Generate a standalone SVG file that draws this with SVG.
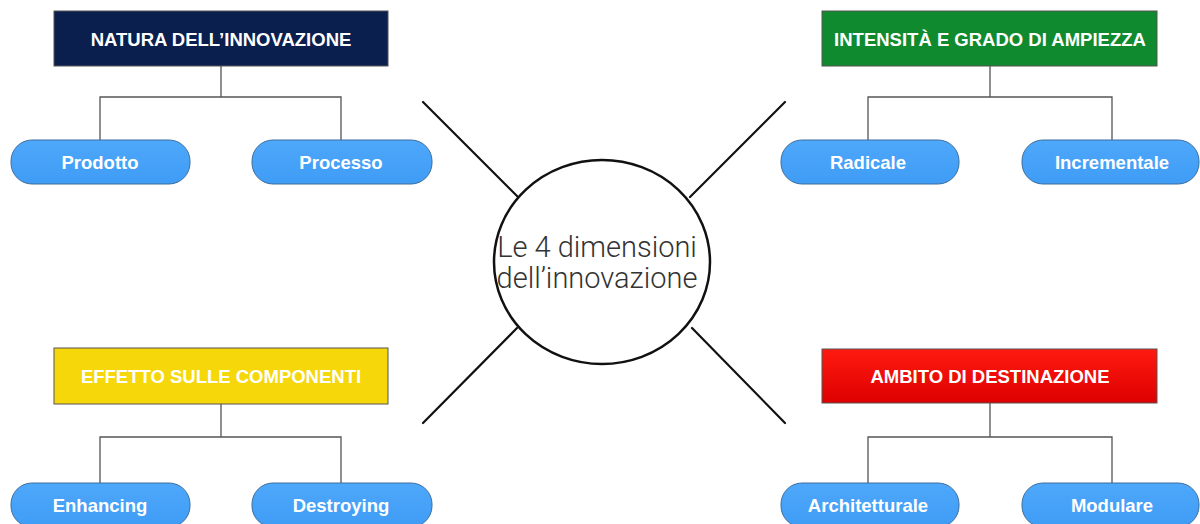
<svg xmlns="http://www.w3.org/2000/svg" width="1200" height="524" viewBox="0 0 1200 524">
  <defs>
    <linearGradient id="redFill" x1="0" y1="0" x2="0" y2="1">
      <stop offset="0" stop-color="#ff1a10"/>
      <stop offset="1" stop-color="#dd0000"/>
    </linearGradient>
    <linearGradient id="pillFill" x1="0" y1="0" x2="0" y2="1">
      <stop offset="0" stop-color="#4ea8fb"/>
      <stop offset="1" stop-color="#3f9cf5"/>
    </linearGradient>
  </defs>
  <style>
    .hdr { stroke: #555; stroke-width: 1; }
    .pill { fill: url(#pillFill); stroke: #3d6f9e; stroke-width: 1; }
    .lbl { font-family: "Liberation Sans", Arial, sans-serif; font-weight: bold; font-size: 18.5px; fill: #ffffff; text-anchor: middle; }
    .tree { fill: none; stroke: #555; stroke-width: 1.3; }
    .spoke { stroke: #111; stroke-width: 2.2; stroke-linecap: round; }
    .hub { font-family: Roboto, "Liberation Sans", Arial, sans-serif; font-weight: 300; font-size: 29px; fill: #333; text-anchor: middle; }
  </style>
  <rect width="1200" height="524" fill="#ffffff"/>

  <!-- connectors -->
  <g id="connectors">
    <path class="tree" d="M221 66 V97 M100 140 V97 H341 V140"/>
    <path class="tree" d="M990 66 V97 M868 140 V97 H1112 V140"/>
    <path class="tree" d="M221 404 V437 M100 483 V437 H341 V483"/>
    <path class="tree" d="M990 403 V437 M868 483 V437 H1112 V483"/>
    <line class="spoke" x1="423" y1="102" x2="518" y2="197"/>
    <line class="spoke" x1="785" y1="102" x2="690" y2="197"/>
    <line class="spoke" x1="423" y1="423" x2="517" y2="328"/>
    <line class="spoke" x1="785" y1="423" x2="692" y2="328"/>
  </g>

  <!-- centre -->
  <g id="hub">
    <ellipse cx="602" cy="262" rx="108" ry="102" fill="#ffffff" stroke="#111" stroke-width="2.5"/>
    <text class="hub" x="597" y="257">Le 4 dimensioni</text>
    <text class="hub" x="597" y="288">dell’innovazione</text>
  </g>

  <!-- natura -->
  <g id="natura">
    <rect class="hdr" x="54" y="11" width="334" height="55" fill="#0b1f4f"/>
    <text class="lbl" x="221" y="46">NATURA DELL’INNOVAZIONE</text>
  </g>
  <g id="prodotto">
    <rect class="pill" x="11" y="140" width="179" height="44" rx="21"/>
    <text class="lbl" x="100" y="169">Prodotto</text>
  </g>
  <g id="processo">
    <rect class="pill" x="252" y="140" width="180" height="44" rx="21"/>
    <text class="lbl" x="341" y="169">Processo</text>
  </g>

  <!-- intensita -->
  <g id="intensita">
    <rect class="hdr" x="822" y="11" width="335" height="55" fill="#0f8a2e"/>
    <text class="lbl" x="990" y="46">INTENSITÀ E GRADO DI AMPIEZZA</text>
  </g>
  <g id="radicale">
    <rect class="pill" x="781" y="140" width="178" height="44" rx="21"/>
    <text class="lbl" x="868" y="169">Radicale</text>
  </g>
  <g id="incrementale">
    <rect class="pill" x="1022" y="140" width="177" height="44" rx="21"/>
    <text class="lbl" x="1112" y="169">Incrementale</text>
  </g>

  <!-- effetto -->
  <g id="effetto">
    <rect class="hdr" x="54" y="348" width="334" height="56" fill="#f6d70a"/>
    <text class="lbl" x="221" y="383">EFFETTO SULLE COMPONENTI</text>
  </g>
  <g id="enhancing">
    <rect class="pill" x="11" y="483" width="179" height="44" rx="21"/>
    <text class="lbl" x="100" y="512">Enhancing</text>
  </g>
  <g id="destroying">
    <rect class="pill" x="252" y="483" width="180" height="44" rx="21"/>
    <text class="lbl" x="341" y="512">Destroying</text>
  </g>

  <!-- ambito -->
  <g id="ambito">
    <rect class="hdr" x="822" y="349" width="335" height="54" fill="url(#redFill)" stroke="#7a1010"/>
    <text class="lbl" x="990" y="383">AMBITO DI DESTINAZIONE</text>
  </g>
  <g id="architetturale">
    <rect class="pill" x="781" y="483" width="178" height="44" rx="21"/>
    <text class="lbl" x="868" y="512">Architetturale</text>
  </g>
  <g id="modulare">
    <rect class="pill" x="1022" y="483" width="177" height="44" rx="21"/>
    <text class="lbl" x="1112" y="512">Modulare</text>
  </g>
</svg>
